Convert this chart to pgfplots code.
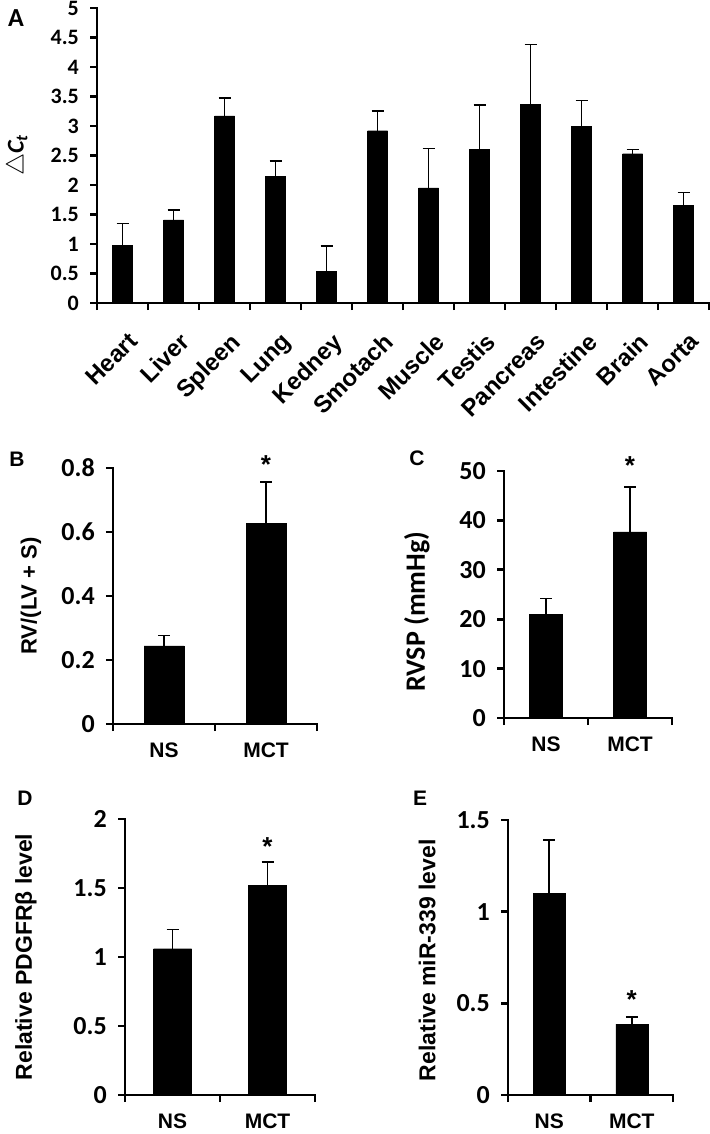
\documentclass[border=0pt]{standalone}
\usepackage{fontspec}
\setmainfont{Liberation Sans}
\newfontfamily\calfont{Carlito}
\usepackage{pgfplots}
\pgfplotsset{compat=1.18}

\pgfplotsset{
  panelbase/.style={
    scale only axis, anchor=south west,
    axis x line*=bottom, axis y line*=left,
    axis line style={-, line width=2.7pt, line cap=rect},
    ymin=0, enlargelimits=false,
    tick align=outside,
    major tick length=7pt,
    tick style={line width=2.7pt, black},
    clip=false,
    ybar,
    /pgf/number format/assume math mode=true,
    yticklabel style={font=\calfont\bfseries\fontsize{26}{26}\selectfont, inner sep=0pt, anchor=east, xshift=-11pt},
    xticklabels={},
    extra x tick style={tick style={draw=none},
      xticklabel style={font=\bfseries\fontsize{21}{21}\selectfont, inner sep=0pt, anchor=north, yshift=-12pt}},
  },
  twobar/.style={
    panelbase, xmin=0.5, xmax=2.5, xtick={0.5,1.5,2.5},
    extra x ticks={1,2}, extra x tick labels={NS,MCT},
  },
  barstyle/.style={fill=black, draw=black,
    error bars/.cd, y dir=plus, y explicit,
    error bar style={line width=1.6pt, black},
    error mark options={rotate=90, line width=1.6pt, mark size=6pt, black}},
}

\begin{document}
\begin{tikzpicture}
\path[use as bounding box] (0pt,0pt) rectangle (709pt,-1134pt);

% Panel letters
\node[font=\calfont\bfseries\fontsize{26}{26}\selectfont] at (16pt,-18pt) {A};
\node[font=\bfseries\fontsize{21}{21}\selectfont] at (17pt,-459pt) {B};
\node[font=\bfseries\fontsize{21}{21}\selectfont] at (417pt,-458pt) {C};
\node[font=\bfseries\fontsize{21}{21}\selectfont] at (25pt,-798pt) {D};
\node[font=\bfseries\fontsize{21}{21}\selectfont] at (420pt,-798pt) {E};

% Panel A
\begin{axis}[panelbase, at={(97pt,-303pt)}, width=612pt, height=295pt,
  xmin=0.5, xmax=12.5, ymax=5,
  xtick={0.5,1.5,...,12.5},
  ytick={0,0.5,1,1.5,2,2.5,3,3.5,4,4.5,5},
  yticklabel style={font=\calfont\bfseries\fontsize{22}{22}\selectfont},
  extra x ticks={1,2,3,4,5,6,7,8,9,10,11,12},
  extra x tick labels={Heart,Liver,Spleen,Lung,Kedney,Smotach,Muscle,Testis,Pancreas,Intestine,Brain,Aorta},
  extra x tick style={xticklabel style={rotate=45, anchor=north east, font=\bfseries\fontsize{24}{24}\selectfont, yshift=-10pt, xshift=-3pt}},
  bar width=20pt,
  ylabel={{\fontsize{24}{24}\selectfont$\triangle$}{\calfont\bfseries\itshape C\textsubscript{t}}},
  ylabel style={font=\calfont\bfseries\fontsize{24}{24}\selectfont, inner sep=0pt, at={(axis description cs:-0.13,0.5)}, anchor=center},
]
\addplot[barstyle] coordinates {
 (1,0.98) +- (0,0.37)
 (2,1.41) +- (0,0.17)
 (3,3.17) +- (0,0.30)
 (4,2.15) +- (0,0.26)
 (5,0.54) +- (0,0.43)
 (6,2.92) +- (0,0.33)
 (7,1.95) +- (0,0.67)
 (8,2.60) +- (0,0.76)
 (9,3.37) +- (0,1.01)
 (10,3.00) +- (0,0.43)
 (11,2.53) +- (0,0.07)
 (12,1.65) +- (0,0.22)
};
\end{axis}

% Panel B
\begin{axis}[twobar, at={(113pt,-724pt)}, width=204pt, height=256pt,
  ymax=0.8, ytick={0,0.2,0.4,0.6,0.8}, bar width=40pt,
  ylabel={RV/(LV + S)},
  ylabel style={font=\bfseries\fontsize{22}{22}\selectfont, at={(axis description cs:-0.402,0.5)}, anchor=center},
]
\addplot[barstyle] coordinates {(1,0.244) +- (0,0.033) (2,0.628) +- (0,0.128)};
\node[font=\bfseries\fontsize{26}{26}\selectfont] at (axis cs:2,0.81) {*};
\end{axis}

% Panel C
\begin{axis}[twobar, at={(504pt,-718pt)}, width=168pt, height=247pt,
  ymax=50, ytick={0,10,20,30,40,50}, bar width=33pt,
  ylabel={RVSP (mmHg)},
  ylabel style={font=\calfont\bfseries\fontsize{28}{28}\selectfont, at={(axis description cs:-0.518,0.43)}, anchor=center},
]
\addplot[barstyle] coordinates {(1,21.0) +- (0,3.2) (2,37.7) +- (0,9.1)};
\node[font=\bfseries\fontsize{26}{26}\selectfont] at (axis cs:2,51.2) {*};
\end{axis}

% Panel D
\begin{axis}[twobar, at={(125pt,-1095pt)}, width=190pt, height=276pt,
  ymax=2, ytick={0,0.5,1,1.5,2}, bar width=38pt,
  ylabel={Relative PDGFRβ level},
  ylabel style={font=\bfseries\fontsize{23}{23}\selectfont, at={(axis description cs:-0.521,0.5)}, anchor=center},
]
\addplot[barstyle] coordinates {(1,1.06) +- (0,0.14) (2,1.52) +- (0,0.17)};
\node[font=\bfseries\fontsize{26}{26}\selectfont] at (axis cs:2,1.80) {*};
\end{axis}

% Panel E
\begin{axis}[twobar, at={(508pt,-1095pt)}, width=165pt, height=275pt,
  ymax=1.5, ytick={0,0.5,1,1.5}, bar width=32pt,
  ylabel={Relative miR-339 level},
  ylabel style={font=\bfseries\fontsize{23}{23}\selectfont, at={(axis description cs:-0.49,0.49)}, anchor=center},
]
\addplot[barstyle] coordinates {(1,1.10) +- (0,0.29) (2,0.387) +- (0,0.037)};
\node[font=\bfseries\fontsize{26}{26}\selectfont] at (axis cs:2,0.52) {*};
\end{axis}
\end{tikzpicture}
\end{document}
